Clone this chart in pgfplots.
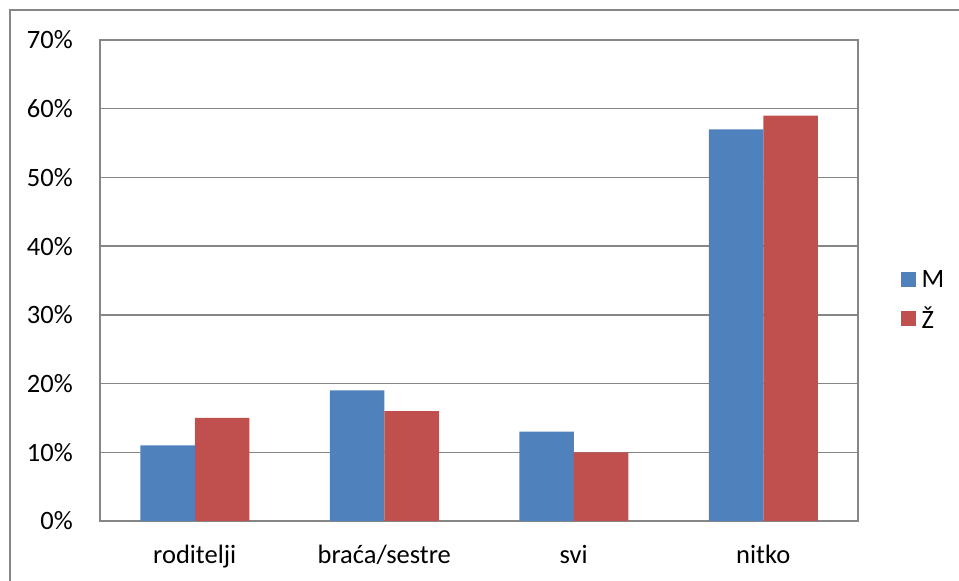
\documentclass[border=0pt]{standalone}
\usepackage{pgfplots}
\pgfplotsset{compat=1.18}
\usepackage{fontspec}
\setmainfont{Carlito}
\definecolor{mblue}{HTML}{4F81BD}
\definecolor{zred}{HTML}{C0504D}
\definecolor{gridgray}{RGB}{134,134,134}
\begin{document}
\begin{tikzpicture}[x=1pt,y=1pt]
\useasboundingbox (0,0) rectangle (959,581);
\draw[gridgray, line width=1.8pt] (10,-10) -- (10,571) -- (970,571);
\begin{axis}[
  at={(100pt,60pt)}, anchor=south west,
  scale only axis, width=758pt, height=481pt,
  xmin=-0.5, xmax=3.5, ymin=0, ymax=70,
  ybar=0pt, bar width=54.5pt,
  xtick={0,1,2,3},
  xticklabels={roditelji, braća/sestre, svi, nitko},
  ytick={0,10,20,30,40,50,60,70},
  yticklabel={\pgfmathprintnumber{\tick}\%},
  /pgf/number format/assume math mode=true,
  ymajorgrids,
  grid style={gridgray, line width=1.5pt},
  axis line style={gridgray, line width=1.5pt},
  major tick length=0pt,
  tick label style={font=\fontsize{26.5}{30}\selectfont, inner sep=0pt},
  yticklabel style={anchor=east, xshift=-27pt},
  xticklabel style={anchor=north, yshift=-24pt},
  legend style={draw=none, at={(1.052,0.459)}, anchor=west,
    font=\fontsize{26.5}{30}\selectfont, row sep=14pt,
    /tikz/every even column/.append style={column sep=0pt}},
  legend cell align=left,
  legend image code/.code={\fill[#1,draw=none] (0pt,-7.5pt) rectangle (15pt,7.5pt); \path (19pt,0pt);},
]
\addplot[fill=mblue, draw=none] coordinates {(0,11) (1,19) (2,13) (3,57)};
\addplot[fill=zred, draw=none] coordinates {(0,15) (1,16) (2,10) (3,59)};
\legend{M, Ž}
\end{axis}
\end{tikzpicture}
\end{document}
